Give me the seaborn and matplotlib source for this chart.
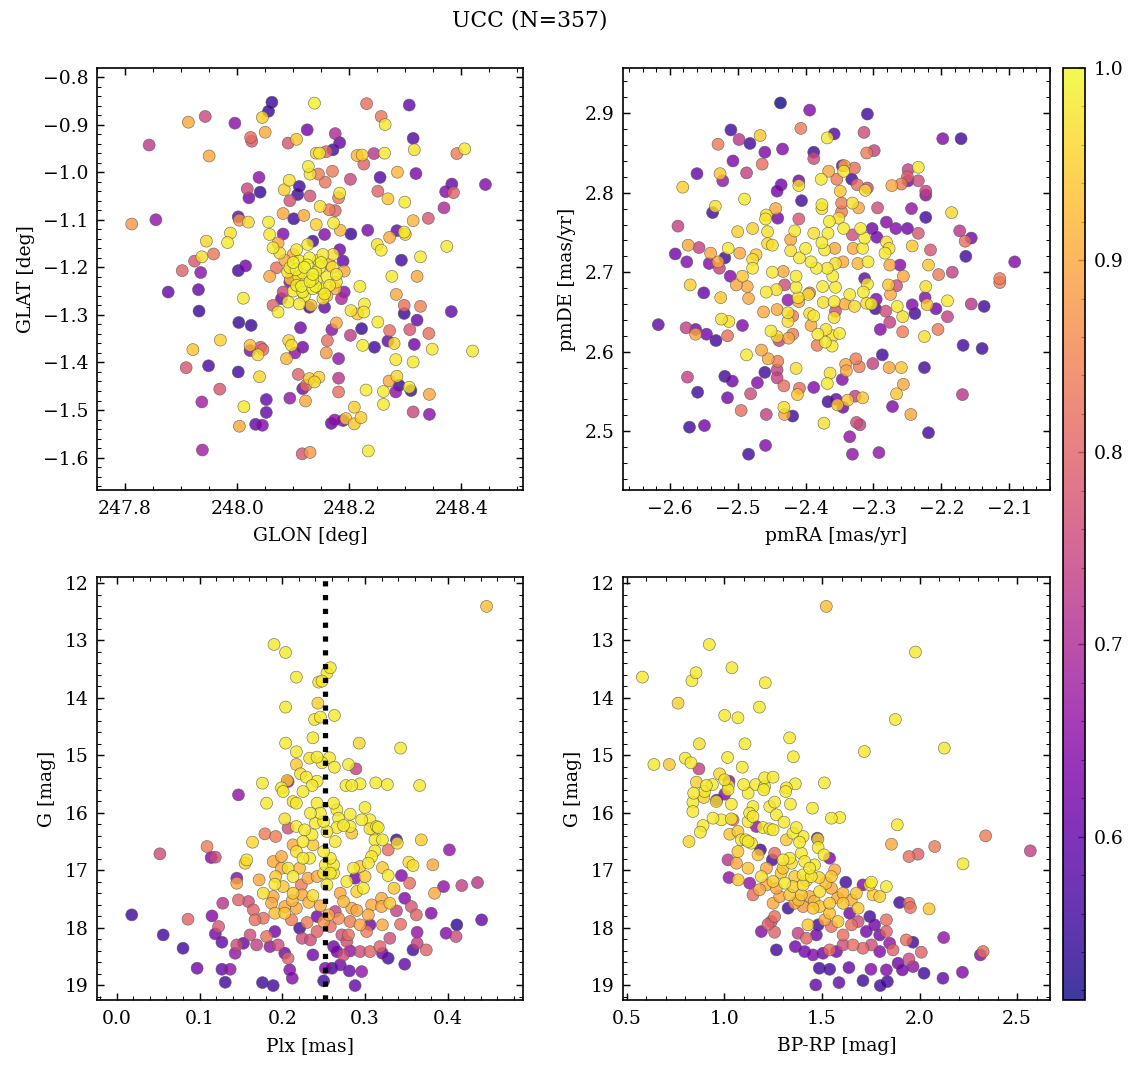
import numpy as np
import pandas as pd
import matplotlib
matplotlib.use('Agg')
import matplotlib.pyplot as plt
from matplotlib.colors import ListedColormap, Normalize
from matplotlib.cm import ScalarMappable
from matplotlib.ticker import MultipleLocator
import seaborn as sns

title = 'UCC (N=357)'
plx_median = 0.252
prob_lo, prob_hi = 0.515, 1.0

# (GLON, GLAT, membership prob)
sky_pts = [
    (248.062, -0.853, 0.55), (248.056, -0.872, 0.55), (248.045, -0.885, 0.95), (248.138, -0.855, 0.99),
    (248.231, -0.856, 0.82), (248.307, -0.859, 0.60), (248.257, -0.883, 0.83), (248.264, -0.900, 0.98),
    (247.913, -0.895, 0.90), (247.943, -0.883, 0.75), (247.996, -0.897, 0.65), (247.843, -0.943, 0.73),
    (247.950, -0.966, 0.90), (248.024, -0.927, 0.82), (248.026, -0.935, 0.78), (248.050, -0.916, 0.90),
    (248.125, -0.911, 0.62), (248.175, -0.919, 0.70), (248.183, -0.938, 0.60), (248.091, -0.939, 0.78),
    (248.106, -0.931, 0.94), (248.171, -0.953, 0.56), (248.159, -0.957, 0.80), (248.141, -0.960, 0.95),
    (248.147, -0.960, 0.98), (248.214, -0.965, 0.92), (248.223, -0.964, 0.95), (248.226, -0.983, 0.80),
    (248.244, -0.961, 0.72), (248.263, -0.960, 0.98), (248.314, -0.929, 0.58), (248.316, -0.953, 0.97),
    (248.392, -0.961, 0.84), (248.406, -0.951, 0.98), (248.127, -0.988, 0.98), (248.130, -1.004, 0.97),
    (248.145, -1.004, 0.84), (248.170, -0.998, 0.84), (248.157, -1.021, 0.83), (248.202, -1.015, 0.75),
    (248.255, -1.011, 0.58), (248.286, -1.000, 0.92), (248.319, -1.003, 0.63), (248.039, -1.011, 0.65),
    (248.093, -1.017, 0.97), (248.084, -1.037, 0.95), (248.111, -1.030, 0.56), (248.108, -1.047, 0.56),
    (248.018, -1.035, 0.75), (248.041, -1.042, 0.55), (248.021, -1.054, 0.62), (248.094, -1.060, 0.77),
    (248.130, -1.050, 0.77), (248.183, -1.044, 0.98), (248.181, -1.054, 0.83), (248.251, -1.040, 0.80),
    (248.269, -1.056, 0.94), (248.299, -1.063, 0.98), (248.383, -1.025, 0.60), (248.372, -1.041, 0.64),
    (248.386, -1.043, 0.80), (248.443, -1.026, 0.64), (248.148, -1.072, 0.97), (248.164, -1.079, 0.84),
    (248.175, -1.081, 0.80), (248.082, -1.087, 0.90), (248.101, -1.098, 0.56), (248.119, -1.091, 0.90),
    (248.002, -1.094, 0.60), (248.004, -1.101, 0.88), (248.020, -1.105, 0.96), (247.812, -1.109, 0.88),
    (247.855, -1.100, 0.66), (248.056, -1.105, 0.98), (248.058, -1.131, 0.98), (248.141, -1.110, 0.95),
    (248.172, -1.107, 0.98), (248.184, -1.122, 0.92), (248.203, -1.130, 0.55), (248.156, -1.131, 0.64),
    (248.233, -1.122, 0.63), (248.285, -1.123, 0.60), (248.298, -1.126, 0.98), (248.300, -1.131, 0.95),
    (248.272, -1.137, 0.90), (248.314, -1.102, 0.92), (248.341, -1.097, 0.78), (248.369, -1.075, 0.70),
    (248.374, -1.156, 0.98), (248.250, -1.152, 0.97), (248.257, -1.164, 0.98), (247.988, -1.128, 0.97),
    (247.983, -1.148, 0.98), (247.945, -1.145, 0.96), (247.958, -1.172, 0.83), (247.937, -1.178, 0.97),
    (247.924, -1.187, 0.78), (247.902, -1.207, 0.80), (247.935, -1.211, 0.65), (248.002, -1.207, 0.56),
    (248.015, -1.197, 0.62), (248.293, -1.185, 0.56), (248.327, -1.178, 0.98), (248.276, -1.219, 0.98),
    (248.321, -1.219, 0.90), (248.082, -1.130, 0.64), (248.064, -1.159, 0.98), (248.073, -1.149, 0.90),
    (248.076, -1.170, 0.97), (248.135, -1.145, 0.56), (248.126, -1.152, 0.98), (248.106, -1.163, 0.98),
    (248.111, -1.187, 0.98), (248.129, -1.180, 0.99), (248.153, -1.173, 0.98), (248.171, -1.173, 0.97),
    (248.183, -1.163, 0.62), (248.189, -1.187, 0.60), (248.165, -1.194, 0.92), (248.147, -1.201, 0.98),
    (248.100, -1.173, 0.90), (248.094, -1.201, 0.98), (248.117, -1.212, 0.98), (248.135, -1.215, 0.99),
    (248.177, -1.215, 0.98), (248.191, -1.208, 0.90), (248.106, -1.222, 0.90), (248.070, -1.201, 0.82),
    (248.058, -1.219, 0.90), (248.082, -1.252, 0.75), (248.094, -1.231, 0.64), (248.106, -1.238, 0.98),
    (248.123, -1.231, 0.98), (248.141, -1.228, 0.99), (248.165, -1.238, 0.98), (248.177, -1.231, 0.97),
    (248.191, -1.252, 0.65), (248.186, -1.266, 0.70), (248.156, -1.256, 0.98), (248.153, -1.266, 0.97),
    (248.129, -1.284, 0.55), (248.132, -1.280, 0.94), (248.111, -1.277, 0.98), (248.091, -1.273, 0.98),
    (248.073, -1.294, 0.98), (248.064, -1.280, 0.80), (248.079, -1.266, 0.60), (248.156, -1.284, 0.60),
    (248.117, -1.252, 0.98), (248.135, -1.245, 0.99), (247.877, -1.252, 0.60), (247.931, -1.247, 0.60),
    (247.932, -1.292, 0.55), (248.011, -1.265, 0.98), (248.219, -1.240, 0.98), (248.284, -1.257, 0.90),
    (248.203, -1.291, 0.97), (248.215, -1.298, 0.94), (248.227, -1.277, 0.98), (248.226, -1.294, 0.98),
    (248.298, -1.280, 0.82), (248.298, -1.297, 0.55), (248.327, -1.282, 0.85), (248.382, -1.293, 0.60),
    (248.321, -1.311, 0.60), (248.308, -1.331, 0.78), (248.342, -1.339, 0.82), (248.316, -1.362, 0.62),
    (248.348, -1.372, 0.98), (248.420, -1.376, 0.98), (248.251, -1.315, 0.98), (248.272, -1.333, 0.82),
    (248.222, -1.329, 0.55), (248.245, -1.368, 0.56), (248.269, -1.355, 0.60), (248.280, -1.360, 0.96),
    (248.224, -1.364, 0.98), (248.283, -1.394, 0.98), (248.314, -1.399, 0.98), (248.177, -1.317, 0.90),
    (248.169, -1.331, 0.65), (248.202, -1.343, 0.73), (248.161, -1.354, 0.82), (248.159, -1.380, 0.88),
    (248.181, -1.392, 0.66), (248.113, -1.327, 0.62), (248.003, -1.316, 0.55), (248.025, -1.322, 0.55),
    (247.970, -1.353, 0.95), (247.921, -1.373, 0.94), (247.909, -1.411, 0.78), (247.949, -1.407, 0.57),
    (248.002, -1.420, 0.56), (248.023, -1.364, 0.93), (248.023, -1.375, 0.64), (248.042, -1.368, 0.78),
    (248.046, -1.373, 0.82), (248.037, -1.384, 0.97), (248.092, -1.354, 0.95), (248.097, -1.364, 0.97),
    (248.117, -1.368, 0.62), (248.103, -1.380, 0.65), (248.088, -1.392, 0.92), (248.040, -1.430, 0.96),
    (248.109, -1.425, 0.80), (248.117, -1.455, 0.62), (248.123, -1.448, 0.82), (248.129, -1.434, 0.94),
    (248.138, -1.441, 0.96), (248.146, -1.431, 0.95), (248.122, -1.481, 0.90), (248.181, -1.433, 0.72),
    (248.181, -1.462, 0.82), (248.094, -1.475, 0.66), (248.052, -1.478, 0.60), (248.052, -1.505, 0.60),
    (248.033, -1.530, 0.60), (248.045, -1.532, 0.64), (248.012, -1.493, 0.98), (248.004, -1.534, 0.90),
    (247.969, -1.456, 0.78), (247.937, -1.483, 0.68), (247.938, -1.584, 0.68), (248.116, -1.592, 0.78),
    (248.130, -1.589, 0.88), (248.234, -1.586, 0.98), (248.168, -1.528, 0.60), (248.174, -1.521, 0.65),
    (248.194, -1.518, 0.94), (248.209, -1.494, 0.95), (248.209, -1.529, 0.94), (248.221, -1.516, 0.95),
    (248.189, -1.522, 0.62), (248.230, -1.458, 0.98), (248.261, -1.461, 0.98), (248.261, -1.488, 0.98),
    (248.271, -1.439, 0.90), (248.285, -1.429, 0.96), (248.289, -1.448, 0.55), (248.283, -1.462, 0.65),
    (248.307, -1.452, 0.98), (248.310, -1.459, 0.56), (248.343, -1.467, 0.90), (248.314, -1.504, 0.75),
    (248.343, -1.509, 0.65), (248.100, -1.190, 0.99), (248.120, -1.200, 0.99), (248.140, -1.210, 0.98),
    (248.130, -1.230, 0.99), (248.110, -1.220, 0.98), (248.150, -1.190, 0.99), (248.090, -1.210, 0.97),
    (248.160, -1.220, 0.98), (248.140, -1.240, 0.99), (248.120, -1.260, 0.98), (248.125, -1.195, 0.99),
    (248.145, -1.185, 0.98), (248.115, -1.240, 0.99), (248.150, -1.245, 0.97), (248.100, -1.250, 0.98),
    (248.170, -1.200, 0.97), (248.085, -1.185, 0.90), (248.160, -1.260, 0.92), (248.105, -1.205, 0.99),
    (248.135, -1.225, 0.99), (248.175, -1.245, 0.91), (248.095, -1.225, 0.94),
]

# (pmRA, pmDE, prob)
pm_pts = [
    (-2.437, 2.913, 0.52), (-2.394, 2.904, 0.64), (-2.309, 2.899, 0.56), (-2.510, 2.879, 0.56),
    (-2.498, 2.867, 0.72), (-2.482, 2.862, 0.56), (-2.467, 2.872, 0.94), (-2.529, 2.861, 0.84),
    (-2.407, 2.881, 0.84), (-2.368, 2.869, 0.98), (-2.358, 2.874, 0.58), (-2.314, 2.876, 0.76),
    (-2.434, 2.855, 0.64), (-2.460, 2.851, 0.63), (-2.507, 2.840, 0.63), (-2.464, 2.836, 0.82),
    (-2.388, 2.851, 0.56), (-2.388, 2.843, 0.76), (-2.310, 2.850, 0.84), (-2.299, 2.853, 0.74),
    (-2.198, 2.868, 0.64), (-2.171, 2.868, 0.56), (-2.560, 2.824, 0.60), (-2.526, 2.824, 0.94),
    (-2.522, 2.815, 0.66), (-2.487, 2.825, 0.74), (-2.581, 2.807, 0.95), (-2.410, 2.815, 0.62),
    (-2.410, 2.809, 0.97), (-2.436, 2.810, 0.62), (-2.442, 2.802, 0.62), (-2.377, 2.817, 0.98),
    (-2.366, 2.827, 0.90), (-2.354, 2.817, 0.84), (-2.346, 2.834, 0.62), (-2.344, 2.827, 0.98),
    (-2.343, 2.834, 0.90), (-2.328, 2.831, 0.82), (-2.332, 2.817, 0.56), (-2.324, 2.810, 0.82),
    (-2.312, 2.803, 0.97), (-2.309, 2.806, 0.76), (-2.349, 2.802, 0.94), (-2.273, 2.809, 0.90),
    (-2.259, 2.811, 0.84), (-2.249, 2.815, 0.62), (-2.249, 2.829, 0.74), (-2.250, 2.820, 0.80),
    (-2.234, 2.832, 0.98), (-2.234, 2.815, 0.76), (-2.223, 2.802, 0.74), (-2.223, 2.797, 0.64),
    (-2.490, 2.792, 0.98), (-2.533, 2.783, 0.97), (-2.537, 2.775, 0.56), (-2.588, 2.758, 0.74),
    (-2.406, 2.790, 0.56), (-2.376, 2.785, 0.98), (-2.376, 2.780, 0.97), (-2.347, 2.787, 0.84),
    (-2.347, 2.776, 0.84), (-2.331, 2.787, 0.97), (-2.322, 2.781, 0.90), (-2.294, 2.781, 0.76),
    (-2.244, 2.780, 0.66), (-2.223, 2.769, 0.56), (-2.185, 2.775, 0.96), (-2.444, 2.780, 0.90),
    (-2.458, 2.772, 0.97), (-2.459, 2.767, 0.98), (-2.441, 2.768, 0.62), (-2.410, 2.767, 0.78),
    (-2.365, 2.764, 0.98), (-2.351, 2.768, 0.97), (-2.344, 2.755, 0.98), (-2.331, 2.747, 0.76),
    (-2.319, 2.755, 0.98), (-2.302, 2.755, 0.62), (-2.295, 2.744, 0.62), (-2.281, 2.763, 0.64),
    (-2.267, 2.755, 0.64), (-2.250, 2.755, 0.62), (-2.234, 2.749, 0.78), (-2.173, 2.752, 0.72),
    (-2.156, 2.743, 0.62), (-2.165, 2.739, 0.82), (-2.164, 2.720, 0.56), (-2.092, 2.713, 0.64),
    (-2.216, 2.728, 0.78), (-2.243, 2.733, 0.94), (-2.281, 2.738, 0.97), (-2.283, 2.724, 0.98),
    (-2.277, 2.730, 0.97), (-2.313, 2.743, 0.98), (-2.316, 2.730, 0.98), (-2.330, 2.730, 0.90),
    (-2.456, 2.751, 0.97), (-2.456, 2.736, 0.96), (-2.449, 2.734, 0.97), (-2.500, 2.751, 0.95),
    (-2.478, 2.755, 0.95), (-2.416, 2.752, 0.98), (-2.422, 2.741, 0.90), (-2.388, 2.749, 0.97),
    (-2.376, 2.737, 0.98), (-2.367, 2.749, 0.98), (-2.372, 2.728, 0.98), (-2.357, 2.730, 0.90),
    (-2.400, 2.730, 0.98), (-2.422, 2.727, 0.97), (-2.409, 2.718, 0.98), (-2.514, 2.730, 0.98),
    (-2.557, 2.731, 0.74), (-2.573, 2.734, 0.90), (-2.592, 2.723, 0.62), (-2.575, 2.713, 0.64),
    (-2.540, 2.724, 0.90), (-2.529, 2.713, 0.90), (-2.519, 2.718, 0.56), (-2.497, 2.724, 0.90),
    (-2.478, 2.716, 0.97), (-2.473, 2.722, 0.94), (-2.478, 2.705, 0.98), (-2.527, 2.705, 0.74),
    (-2.542, 2.711, 0.64), (-2.449, 2.700, 0.98), (-2.433, 2.701, 0.90), (-2.392, 2.713, 0.98),
    (-2.384, 2.705, 0.98), (-2.368, 2.705, 0.98), (-2.356, 2.711, 0.97), (-2.345, 2.713, 0.90),
    (-2.323, 2.711, 0.92), (-2.308, 2.713, 0.98), (-2.276, 2.709, 0.90), (-2.261, 2.709, 0.64),
    (-2.219, 2.709, 0.94), (-2.204, 2.697, 0.84), (-2.184, 2.700, 0.74), (-2.114, 2.692, 0.84),
    (-2.511, 2.695, 0.64), (-2.493, 2.695, 0.94), (-2.256, 2.695, 0.90), (-2.313, 2.692, 0.60),
    (-2.414, 2.695, 0.98), (-2.360, 2.695, 0.98), (-2.570, 2.684, 0.95), (-2.550, 2.674, 0.60),
    (-2.525, 2.668, 0.94), (-2.502, 2.684, 0.90), (-2.486, 2.682, 0.90), (-2.484, 2.667, 0.90),
    (-2.458, 2.675, 0.98), (-2.443, 2.678, 0.97), (-2.431, 2.684, 0.76), (-2.426, 2.665, 0.66),
    (-2.414, 2.681, 0.98), (-2.411, 2.668, 0.97), (-2.410, 2.663, 0.90), (-2.396, 2.672, 0.97),
    (-2.394, 2.674, 0.84), (-2.375, 2.682, 0.98), (-2.356, 2.681, 0.98), (-2.374, 2.662, 0.97),
    (-2.358, 2.663, 0.98), (-2.342, 2.660, 0.90), (-2.335, 2.672, 0.98), (-2.328, 2.657, 0.96),
    (-2.315, 2.675, 0.98), (-2.309, 2.685, 0.98), (-2.310, 2.661, 0.97), (-2.303, 2.660, 0.98),
    (-2.297, 2.654, 0.56), (-2.296, 2.666, 0.64), (-2.278, 2.684, 0.94), (-2.275, 2.672, 0.90),
    (-2.266, 2.683, 0.76), (-2.265, 2.657, 0.98), (-2.257, 2.644, 0.97), (-2.282, 2.651, 0.76),
    (-2.276, 2.637, 0.74), (-2.290, 2.628, 0.64), (-2.257, 2.625, 0.84), (-2.243, 2.659, 0.64),
    (-2.239, 2.648, 0.56), (-2.224, 2.668, 0.64), (-2.223, 2.682, 0.97), (-2.221, 2.659, 0.94),
    (-2.208, 2.654, 0.62), (-2.191, 2.664, 0.98), (-2.191, 2.644, 0.74), (-2.225, 2.619, 0.97),
    (-2.205, 2.628, 0.84), (-2.156, 2.660, 0.72), (-2.137, 2.657, 0.56), (-2.114, 2.687, 0.84),
    (-2.617, 2.634, 0.60), (-2.576, 2.630, 0.74), (-2.562, 2.628, 0.62), (-2.562, 2.622, 0.90),
    (-2.546, 2.622, 0.62), (-2.532, 2.614, 0.56), (-2.524, 2.641, 0.97), (-2.513, 2.638, 0.97),
    (-2.515, 2.620, 0.82), (-2.493, 2.633, 0.64), (-2.462, 2.650, 0.90), (-2.442, 2.653, 0.90),
    (-2.426, 2.649, 0.97), (-2.426, 2.638, 0.97), (-2.419, 2.645, 0.84), (-2.451, 2.626, 0.98),
    (-2.442, 2.619, 0.96), (-2.439, 2.614, 0.74), (-2.425, 2.617, 0.90), (-2.419, 2.622, 0.84),
    (-2.394, 2.648, 0.97), (-2.388, 2.645, 0.98), (-2.392, 2.633, 0.90), (-2.382, 2.622, 0.98),
    (-2.383, 2.608, 0.84), (-2.370, 2.628, 0.97), (-2.371, 2.612, 0.98), (-2.360, 2.620, 0.97),
    (-2.361, 2.607, 0.98), (-2.350, 2.623, 0.98), (-2.358, 2.643, 0.97), (-2.356, 2.651, 0.76),
    (-2.487, 2.596, 0.98), (-2.465, 2.602, 0.90), (-2.455, 2.591, 0.90), (-2.441, 2.588, 0.84),
    (-2.442, 2.577, 0.74), (-2.442, 2.567, 0.74), (-2.460, 2.574, 0.56), (-2.432, 2.557, 0.82),
    (-2.414, 2.579, 0.97), (-2.409, 2.554, 0.82), (-2.412, 2.546, 0.94), (-2.471, 2.561, 0.64),
    (-2.519, 2.569, 0.56), (-2.508, 2.563, 0.62), (-2.574, 2.568, 0.74), (-2.559, 2.549, 0.56),
    (-2.515, 2.542, 0.62), (-2.481, 2.547, 0.76), (-2.495, 2.526, 0.82), (-2.458, 2.521, 0.74),
    (-2.432, 2.530, 0.97), (-2.431, 2.521, 0.90), (-2.419, 2.519, 0.56), (-2.571, 2.505, 0.56),
    (-2.549, 2.507, 0.62), (-2.484, 2.471, 0.56), (-2.459, 2.482, 0.64), (-2.373, 2.510, 0.97),
    (-2.388, 2.555, 0.64), (-2.368, 2.560, 0.98), (-2.364, 2.573, 0.97), (-2.346, 2.565, 0.64),
    (-2.341, 2.584, 0.90), (-2.340, 2.576, 0.90), (-2.326, 2.591, 0.84), (-2.321, 2.581, 0.84),
    (-2.301, 2.585, 0.74), (-2.287, 2.596, 0.56), (-2.277, 2.580, 0.90), (-2.259, 2.580, 0.94),
    (-2.256, 2.559, 0.90), (-2.266, 2.547, 0.94), (-2.225, 2.580, 0.56), (-2.272, 2.531, 0.64),
    (-2.245, 2.521, 0.90), (-2.219, 2.498, 0.56), (-2.169, 2.546, 0.72), (-2.168, 2.608, 0.56),
    (-2.140, 2.604, 0.56), (-2.367, 2.537, 0.56), (-2.353, 2.533, 0.94), (-2.345, 2.530, 0.62),
    (-2.355, 2.540, 0.60), (-2.338, 2.539, 0.94), (-2.327, 2.544, 0.74), (-2.316, 2.542, 0.94),
    (-2.325, 2.511, 0.76), (-2.320, 2.508, 0.74), (-2.335, 2.493, 0.66), (-2.331, 2.471, 0.66),
    (-2.292, 2.473, 0.66),
]

# (Plx, G, prob)
plx_pts = [
    (0.447, 12.406, 0.93), (0.190, 13.069, 0.98), (0.204, 13.208, 0.98), (0.217, 13.638, 0.98),
    (0.258, 13.475, 0.98), (0.254, 13.568, 0.98), (0.244, 13.725, 0.97), (0.248, 13.707, 0.98),
    (0.204, 14.160, 0.98), (0.243, 14.091, 0.95), (0.239, 14.375, 0.98), (0.246, 14.334, 0.98),
    (0.263, 14.305, 0.98), (0.237, 14.695, 0.98), (0.204, 14.787, 0.98), (0.293, 14.787, 0.96),
    (0.343, 14.874, 0.98), (0.217, 14.938, 0.98), (0.233, 15.049, 0.97), (0.242, 15.031, 0.98),
    (0.257, 15.043, 0.98), (0.248, 15.130, 0.98), (0.263, 15.206, 0.98), (0.280, 15.159, 0.98),
    (0.289, 15.235, 0.74), (0.217, 15.159, 0.94), (0.222, 15.322, 0.97), (0.229, 15.380, 0.98),
    (0.207, 15.455, 0.66), (0.206, 15.438, 0.94), (0.176, 15.484, 0.98), (0.242, 15.450, 0.98),
    (0.236, 15.525, 0.98), (0.199, 15.566, 0.98), (0.277, 15.525, 0.98), (0.284, 15.525, 0.98),
    (0.294, 15.496, 0.98), (0.313, 15.479, 0.98), (0.327, 15.508, 0.98), (0.366, 15.525, 0.98),
    (0.147, 15.688, 0.66), (0.181, 15.833, 0.98), (0.201, 15.630, 0.98), (0.213, 15.804, 0.97),
    (0.217, 15.833, 0.98), (0.225, 15.630, 0.98), (0.242, 15.833, 0.98), (0.262, 15.833, 0.98),
    (0.246, 16.007, 0.98), (0.234, 16.007, 0.98), (0.266, 15.949, 0.98), (0.268, 16.094, 0.98),
    (0.282, 16.024, 0.98), (0.300, 15.908, 0.98), (0.296, 16.123, 0.98), (0.306, 16.123, 0.98),
    (0.314, 16.239, 0.98), (0.306, 16.280, 0.98), (0.282, 16.239, 0.98), (0.284, 16.355, 0.94),
    (0.266, 16.257, 0.98), (0.264, 16.501, 0.98), (0.274, 16.222, 0.98), (0.203, 16.106, 0.97),
    (0.207, 16.268, 0.76), (0.217, 16.239, 0.98), (0.227, 16.297, 0.98), (0.236, 16.384, 0.98),
    (0.240, 16.181, 0.98), (0.254, 16.326, 0.98), (0.250, 16.152, 0.98), (0.179, 16.367, 0.84),
    (0.192, 16.413, 0.84), (0.164, 16.512, 0.96), (0.157, 16.820, 0.97), (0.155, 16.878, 0.95),
    (0.109, 16.588, 0.84), (0.114, 16.779, 0.64), (0.119, 16.773, 0.76), (0.052, 16.715, 0.76),
    (0.213, 16.559, 0.90), (0.225, 16.501, 0.98), (0.217, 16.675, 0.97), (0.225, 16.791, 0.98),
    (0.233, 16.791, 0.98), (0.237, 16.559, 0.94), (0.250, 16.675, 0.98), (0.258, 16.791, 0.98),
    (0.262, 16.907, 0.98), (0.252, 16.907, 0.98), (0.250, 17.052, 0.98), (0.258, 17.052, 0.98),
    (0.199, 16.762, 0.90), (0.189, 16.849, 0.90), (0.207, 16.965, 0.97), (0.199, 16.965, 0.90),
    (0.213, 17.110, 0.98), (0.221, 16.965, 0.92), (0.231, 17.139, 0.90), (0.242, 17.110, 0.90),
    (0.192, 17.110, 0.94), (0.201, 17.285, 0.94), (0.172, 17.168, 0.90), (0.145, 17.139, 0.64),
    (0.145, 17.226, 0.90), (0.177, 17.401, 0.97), (0.191, 17.244, 0.98), (0.189, 17.459, 0.90),
    (0.213, 17.401, 0.94), (0.223, 17.256, 0.84), (0.224, 17.430, 0.90), (0.237, 17.441, 0.97),
    (0.254, 17.256, 0.98), (0.262, 17.052, 0.98), (0.270, 17.401, 0.90), (0.278, 17.197, 0.98),
    (0.290, 17.372, 0.95), (0.298, 17.314, 0.98), (0.300, 17.110, 0.94), (0.286, 16.965, 0.98),
    (0.288, 17.139, 0.62), (0.294, 16.936, 0.94), (0.304, 16.878, 0.98), (0.308, 16.762, 0.98),
    (0.312, 16.663, 0.98), (0.321, 16.472, 0.98), (0.312, 16.472, 0.98), (0.310, 16.297, 0.98),
    (0.316, 16.257, 0.98), (0.328, 16.646, 0.82), (0.338, 16.472, 0.56), (0.339, 16.530, 0.97),
    (0.321, 16.954, 0.94), (0.328, 17.093, 0.98), (0.335, 17.314, 0.94), (0.344, 17.093, 0.64),
    (0.354, 17.226, 0.82), (0.368, 16.472, 0.95), (0.353, 16.860, 0.97), (0.358, 16.919, 0.97),
    (0.382, 16.907, 0.90), (0.384, 17.401, 0.90), (0.395, 17.285, 0.66), (0.402, 16.646, 0.66),
    (0.417, 17.267, 0.74), (0.436, 17.215, 0.72), (0.441, 17.865, 0.60), (0.411, 17.952, 0.54),
    (0.410, 18.155, 0.76), (0.398, 18.097, 0.64), (0.374, 18.388, 0.80), (0.380, 17.749, 0.64),
    (0.363, 18.080, 0.66), (0.348, 18.637, 0.60), (0.358, 18.388, 0.56), (0.363, 18.272, 0.74),
    (0.343, 17.941, 0.82), (0.356, 17.633, 0.78), (0.362, 17.778, 0.80), (0.348, 17.488, 0.64),
    (0.338, 17.708, 0.74), (0.330, 17.575, 0.94), (0.320, 17.488, 0.90), (0.321, 17.952, 0.90),
    (0.320, 17.633, 0.90), (0.308, 17.604, 0.90), (0.304, 17.778, 0.90), (0.306, 17.952, 0.62),
    (0.294, 17.952, 0.90), (0.302, 18.068, 0.84), (0.284, 17.662, 0.90), (0.274, 17.546, 0.92),
    (0.282, 17.894, 0.84), (0.272, 18.126, 0.76), (0.280, 18.126, 0.82), (0.278, 18.243, 0.76),
    (0.264, 17.720, 0.74), (0.256, 17.778, 0.90), (0.250, 17.894, 0.88), (0.258, 17.981, 0.82),
    (0.266, 18.417, 0.62), (0.260, 18.707, 0.56), (0.270, 18.649, 0.62), (0.281, 18.754, 0.60),
    (0.296, 18.765, 0.66), (0.288, 19.009, 0.60), (0.250, 18.928, 0.56), (0.252, 18.707, 0.64),
    (0.242, 17.807, 0.62), (0.242, 18.068, 0.80), (0.234, 18.214, 0.76), (0.224, 18.185, 0.76),
    (0.221, 18.010, 0.56), (0.211, 17.865, 0.84), (0.217, 17.662, 0.90), (0.203, 17.749, 0.94),
    (0.203, 17.633, 0.90), (0.191, 17.749, 0.93), (0.187, 17.575, 0.90), (0.177, 17.836, 0.82),
    (0.167, 17.865, 0.82), (0.165, 17.691, 0.80), (0.159, 17.546, 0.76), (0.147, 17.517, 0.80),
    (0.181, 18.155, 0.82), (0.191, 18.068, 0.62), (0.195, 18.301, 0.76), (0.185, 18.330, 0.66),
    (0.169, 18.301, 0.74), (0.161, 18.127, 0.76), (0.145, 18.301, 0.76), (0.143, 18.446, 0.66),
    (0.153, 18.272, 0.60), (0.203, 18.446, 0.62), (0.207, 18.533, 0.80), (0.209, 18.736, 0.64),
    (0.212, 18.881, 0.64), (0.176, 18.957, 0.56), (0.189, 19.009, 0.56), (0.131, 18.951, 0.56),
    (0.127, 18.725, 0.60), (0.137, 18.725, 0.66), (0.097, 18.707, 0.62), (0.080, 18.359, 0.56),
    (0.056, 18.127, 0.56), (0.018, 17.778, 0.56), (0.086, 17.853, 0.80), (0.115, 17.796, 0.64),
    (0.128, 17.575, 0.72), (0.123, 17.981, 0.78), (0.119, 18.109, 0.62), (0.127, 18.254, 0.60),
    (0.237, 18.475, 0.62), (0.282, 18.405, 0.66), (0.294, 18.417, 0.76), (0.306, 18.417, 0.80),
    (0.318, 18.330, 0.80), (0.328, 18.533, 0.56), (0.330, 18.185, 0.76), (0.321, 18.446, 0.62),
    (0.262, 18.330, 0.62), (0.274, 18.475, 0.76), (0.232, 17.560, 0.92), (0.246, 17.620, 0.90),
    (0.212, 17.530, 0.92), (0.268, 17.840, 0.86), (0.230, 17.910, 0.84), (0.290, 17.700, 0.90),
]

# (BP-RP, G, prob)
cmd_pts = [
    (1.522, 12.406, 0.93), (0.922, 13.069, 0.98), (1.979, 13.202, 0.98), (0.579, 13.638, 0.98),
    (0.854, 13.562, 0.98), (0.833, 13.701, 0.98), (1.038, 13.475, 0.98), (1.209, 13.736, 0.98),
    (0.762, 14.091, 0.95), (1.179, 14.160, 0.98), (1.001, 14.305, 0.98), (1.069, 14.346, 0.98),
    (1.876, 14.375, 0.98), (1.334, 14.695, 0.98), (0.871, 14.799, 0.97), (1.105, 14.799, 0.98),
    (1.717, 14.933, 0.98), (2.127, 14.874, 0.98), (1.353, 15.025, 0.98), (1.016, 15.037, 0.98),
    (0.638, 15.159, 0.98), (0.717, 15.159, 0.94), (0.799, 15.049, 0.98), (0.828, 15.130, 0.98),
    (0.869, 15.235, 0.74), (1.091, 15.206, 0.98), (0.975, 15.322, 0.96), (1.001, 15.426, 0.98),
    (1.023, 15.450, 0.66), (0.856, 15.467, 0.95), (0.907, 15.525, 0.98), (0.938, 15.508, 0.98),
    (1.020, 15.525, 0.98), (1.098, 15.508, 0.98), (1.160, 15.508, 0.98), (1.206, 15.391, 0.98),
    (1.249, 15.380, 0.98), (1.317, 15.566, 0.98), (1.363, 15.496, 0.98), (1.512, 15.479, 0.98),
    (1.206, 15.542, 0.98), (0.842, 15.659, 0.98), (0.898, 15.630, 0.98), (0.838, 15.815, 0.98),
    (0.838, 15.978, 0.98), (0.894, 15.734, 0.95), (0.960, 15.780, 0.56), (0.958, 15.804, 0.97),
    (1.001, 15.676, 0.64), (1.018, 15.600, 0.98), (1.035, 15.850, 0.98), (1.121, 15.659, 0.98),
    (1.146, 15.891, 0.98), (1.129, 16.007, 0.98), (1.146, 16.065, 0.98), (1.201, 15.600, 0.98),
    (1.232, 15.891, 0.98), (1.257, 15.815, 0.98), (1.266, 16.036, 0.98), (1.314, 15.630, 0.98),
    (1.338, 15.850, 0.98), (1.305, 16.164, 0.98), (1.451, 15.920, 0.98), (1.548, 16.094, 0.98),
    (1.591, 16.082, 0.98), (1.886, 16.210, 0.98), (0.890, 16.222, 0.98), (0.876, 16.338, 0.98),
    (0.818, 16.500, 0.96), (0.941, 16.094, 0.98), (0.984, 16.123, 0.98), (1.035, 16.106, 0.98),
    (1.044, 16.123, 0.82), (1.121, 16.152, 0.98), (1.163, 16.239, 0.66), (1.197, 16.257, 0.98),
    (1.232, 16.280, 0.98), (1.249, 16.297, 0.98), (1.027, 16.373, 0.94), (1.069, 16.326, 0.94),
    (1.086, 16.471, 0.98), (1.121, 16.500, 0.98), (1.138, 16.530, 0.98), (1.109, 16.471, 0.98),
    (1.317, 16.471, 0.94), (1.368, 16.257, 0.98), (1.351, 16.355, 0.98), (1.403, 16.413, 0.98),
    (1.385, 16.512, 0.98), (1.476, 16.442, 0.56), (1.479, 16.460, 0.96), (1.480, 16.605, 0.98),
    (1.510, 16.733, 0.98), (1.539, 16.791, 0.64), (1.856, 16.547, 0.90), (1.946, 16.762, 0.82),
    (1.992, 16.721, 0.80), (2.078, 16.588, 0.84), (2.223, 16.889, 0.98), (2.339, 16.402, 0.84),
    (2.568, 16.663, 0.74), (1.018, 16.820, 0.72), (1.069, 16.675, 0.94), (1.061, 16.878, 0.90),
    (1.121, 16.965, 0.94), (1.184, 16.646, 0.56), (1.172, 16.733, 0.94), (1.189, 17.110, 0.97),
    (1.215, 16.965, 0.90), (1.257, 16.704, 0.82), (1.245, 16.820, 0.56), (1.300, 16.820, 0.98),
    (1.334, 16.791, 0.98), (1.300, 16.965, 0.94), (1.343, 16.878, 0.97), (1.394, 16.704, 0.98),
    (1.411, 16.849, 0.98), (1.437, 16.965, 0.98), (1.462, 16.907, 0.98), (1.403, 17.081, 0.98),
    (1.360, 17.110, 0.94), (1.445, 17.110, 0.98), (1.485, 17.128, 0.95), (1.548, 17.110, 0.94),
    (1.565, 16.994, 0.90), (1.622, 17.209, 0.56), (1.753, 17.209, 0.98), (1.745, 17.256, 0.98),
    (1.830, 17.285, 0.98), (1.710, 17.256, 0.64), (1.023, 17.128, 0.66), (1.070, 17.168, 0.94),
    (1.129, 17.226, 0.66), (1.146, 17.430, 0.82), (1.215, 17.256, 0.90), (1.249, 17.197, 0.95),
    (1.309, 17.226, 0.98), (1.266, 17.314, 0.90), (1.351, 17.285, 0.95), (1.403, 17.256, 0.97),
    (1.283, 17.459, 0.90), (1.334, 17.430, 0.94), (1.394, 17.430, 0.94), (1.437, 17.459, 0.90),
    (1.488, 17.372, 0.97), (1.548, 17.314, 0.90), (1.608, 17.401, 0.92), (1.676, 17.401, 0.94),
    (1.762, 17.430, 0.94), (1.796, 17.459, 0.95), (1.249, 17.575, 0.90), (1.326, 17.662, 0.56),
    (1.360, 17.575, 0.90), (1.403, 17.633, 0.88), (1.454, 17.662, 0.94), (1.488, 17.633, 0.94),
    (1.539, 17.575, 0.94), (1.539, 17.749, 0.93), (1.608, 17.575, 0.94), (1.642, 17.749, 0.62),
    (1.685, 17.662, 0.94), (1.745, 17.807, 0.56), (1.898, 17.563, 0.56), (1.946, 17.575, 0.82),
    (1.953, 17.650, 0.82), (2.049, 17.673, 0.94), (1.257, 17.807, 0.82), (1.240, 17.894, 0.76),
    (1.223, 17.941, 0.80), (1.257, 18.080, 0.80), (1.189, 18.068, 0.64), (1.266, 18.388, 0.56),
    (1.377, 18.097, 0.74), (1.420, 18.185, 0.80), (1.428, 17.952, 0.94), (1.480, 17.952, 0.56),
    (1.471, 18.127, 0.62), (1.514, 17.865, 0.90), (1.548, 17.981, 0.82), (1.582, 17.894, 0.94),
    (1.608, 18.127, 0.82), (1.651, 17.952, 0.82), (1.685, 17.894, 0.76), (1.727, 18.068, 0.62),
    (1.770, 17.952, 0.62), (1.830, 17.865, 0.82), (1.830, 18.068, 0.80), (1.796, 18.127, 0.62),
    (1.847, 18.272, 0.66), (1.932, 18.214, 0.82), (1.966, 18.254, 0.56), (2.009, 18.428, 0.80),
    (2.124, 18.173, 0.66), (2.326, 18.417, 0.82), (2.312, 18.475, 0.64), (1.363, 18.330, 0.62),
    (1.411, 18.417, 0.62), (1.454, 18.475, 0.64), (1.505, 18.446, 0.62), (1.539, 18.388, 0.82),
    (1.574, 18.417, 0.62), (1.608, 18.301, 0.76), (1.659, 18.301, 0.82), (1.710, 18.359, 0.80),
    (1.753, 18.301, 0.76), (1.796, 18.417, 0.64), (1.864, 18.388, 0.80), (1.890, 18.620, 0.62),
    (1.946, 18.545, 0.76), (1.912, 18.736, 0.62), (1.967, 18.678, 0.66), (2.023, 18.794, 0.56),
    (2.120, 18.881, 0.60), (2.220, 18.777, 0.64), (1.486, 18.707, 0.56), (1.539, 18.725, 0.56),
    (1.638, 18.696, 0.60), (1.751, 18.725, 0.64), (1.830, 18.736, 0.64), (1.468, 18.997, 0.60),
    (1.587, 18.957, 0.60), (1.710, 18.922, 0.56), (1.799, 19.009, 0.56), (1.835, 18.939, 0.56),
    (1.290, 17.050, 0.94), (1.420, 17.180, 0.96), (1.520, 17.230, 0.93), (1.180, 17.340, 0.90),
    (1.460, 17.540, 0.92), (1.580, 17.480, 0.90), (1.650, 17.520, 0.91), (1.380, 17.520, 0.93),
]

sns.set_theme(style='ticks', rc={
    'xtick.direction': 'in', 'ytick.direction': 'in',
    'xtick.top': True, 'ytick.right': True,
    'xtick.minor.visible': True, 'ytick.minor.visible': True,
    'xtick.major.size': 3.5, 'ytick.major.size': 3.5,
    'xtick.minor.size': 2.0, 'ytick.minor.size': 2.0,
    'xtick.major.width': 0.7, 'ytick.major.width': 0.7,
    'xtick.minor.width': 0.5, 'ytick.minor.width': 0.5,
    'xtick.major.pad': 5, 'ytick.major.pad': 4,
    'axes.linewidth': 0.8, 'axes.edgecolor': 'black',
    'xtick.color': 'black', 'ytick.color': 'black', 'text.color': 'black',
    'axes.labelcolor': 'black',
    'font.size': 9, 'axes.labelsize': 9, 'xtick.labelsize': 9, 'ytick.labelsize': 9,
})
plt.rcParams['font.family'] = ['DejaVu Serif']

# plasma with the same transparency as the markers, for the colour bar
cmap_alpha = plt.get_cmap('plasma')(np.linspace(0, 1, 256))
cmap_alpha[:, 3] = 0.8
cmap_alpha = ListedColormap(cmap_alpha)

fig = plt.figure(figsize=(1136 / 150, 1067 / 150), dpi=150)

panels = [
    (sky_pts, [0.0854, 0.5408, 0.3750, 0.3955], 'GLON [deg]', 'GLAT [deg]',
     (247.75, 248.51), (-1.668, -0.781), (0.2, 0.05), (0.1, 0.02)),
    (pm_pts, [0.5484, 0.5408, 0.3759, 0.3955], 'pmRA [mas/yr]', 'pmDE [mas/yr]',
     (-2.669, -2.040), (2.426, 2.957), (0.1, 0.02), (0.1, 0.02)),
    (plx_pts, [0.0854, 0.0628, 0.3750, 0.3964], 'Plx [mas]', 'G [mag]',
     (-0.024, 0.491), (19.26, 11.895), (0.1, 0.02), (1, 0.2)),
    (cmd_pts, [0.5484, 0.0628, 0.3759, 0.3964], 'BP-RP [mag]', 'G [mag]',
     (0.4795, 2.669), (19.26, 11.895), (0.5, 0.1), (1, 0.2)),
]

axes = []
for pts, rect, xlab, ylab, xlim, ylim, xt, yt in panels:
    ax = fig.add_axes(rect)
    df = pd.DataFrame(pts, columns=['x', 'y', 'prob']).sort_values('prob')
    sns.scatterplot(data=df, x='x', y='y', hue='prob', palette='plasma',
                    hue_norm=(prob_lo, prob_hi), s=33, alpha=0.8,
                    edgecolor='#555555', linewidth=0.3, legend=False, ax=ax)
    ax.set_xlim(*xlim)
    ax.set_ylim(*ylim)
    ax.xaxis.set_major_locator(MultipleLocator(xt[0]))
    ax.xaxis.set_minor_locator(MultipleLocator(xt[1]))
    ax.yaxis.set_major_locator(MultipleLocator(yt[0]))
    ax.yaxis.set_minor_locator(MultipleLocator(yt[1]))
    ax.set_xlabel(xlab)
    ax.set_ylabel(ylab)
    ax.tick_params(which='both', direction='in', top=True, right=True)
    axes.append(ax)

axes[2].axvline(plx_median, color='black', ls=':', lw=2.5, zorder=5)

cax = fig.add_axes([0.9357, 0.0628, 0.0194, 0.8735])
sm = ScalarMappable(norm=Normalize(prob_lo, prob_hi), cmap=cmap_alpha)
cbar = fig.colorbar(sm, cax=cax)
cbar.outline.set_linewidth(0.8)
cax.yaxis.set_major_locator(MultipleLocator(0.1))
cax.yaxis.set_minor_locator(MultipleLocator(0.02))
cax.tick_params(which='both', direction='in', left=False, right=True)
cax.tick_params(which='major', length=3.5, width=0.7)
cax.tick_params(which='minor', length=2.0, width=0.5)

fig.text(0.4666, 0.981, title, ha='center', va='center', fontsize=10.5)

fig.savefig('out.png', dpi=150)
